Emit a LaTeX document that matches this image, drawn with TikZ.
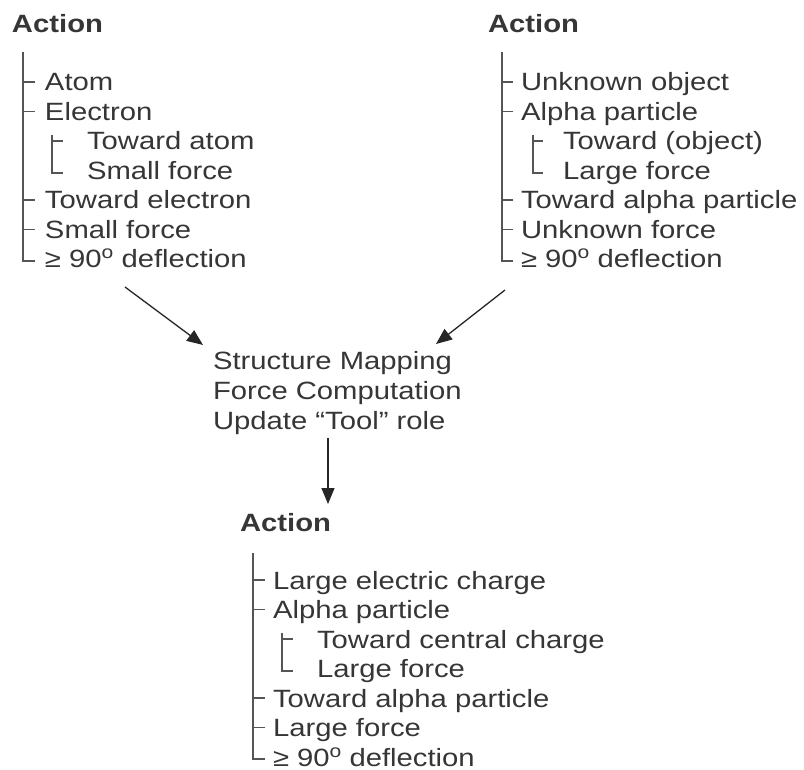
\documentclass[tikz,border=0pt]{standalone}
\usepackage{fontspec}
\setmainfont{Liberation Sans}[FakeStretch=1.17]
\usetikzlibrary{arrows.meta}
\definecolor{txt}{HTML}{363636}
\definecolor{ln}{HTML}{555555}
\newcommand{\degsup}{\raisebox{9pt}{\fontsize{18}{18}\selectfont o}}
\tikzset{
  lbl/.style={anchor=base west, inner sep=0pt, outer sep=0pt, text=txt, font=\fontsize{25}{30}\selectfont},
  headlbl/.style={lbl, font=\fontsize{25}{30}\selectfont\bfseries},
  tree/.style={draw=ln, line width=1.5pt},
  arr/.style={draw=black!85, line width=1.3pt, -{Triangle[length=16pt,width=13pt]}},
}
\begin{document}
\begin{tikzpicture}[x=1pt,y=-1pt]
\useasboundingbox (0,0) rectangle (804,770);

% ---------- left block ----------
\node[headlbl] (la) at (12,33) {Action};
\node[lbl] (l1) at (45,91) {Atom};
\node[lbl] (l2) at (45,120.5) {Electron};
\node[lbl] (l3) at (87,150) {Toward atom};
\node[lbl] (l4) at (87,179.5) {Small force};
\node[lbl] (l5) at (45,209) {Toward electron};
\node[lbl] (l6) at (45,238.5) {Small force};
\node[lbl] (l7) at (45,268) {≥ 90\degsup{} deflection};
\draw[tree] (23,52) -- (23,261) -- (35,261);
\draw[tree] (23,82) -- (35,82);
\draw[tree] (23,111.5) -- (35,111.5);
\draw[tree] (23,200) -- (35,200);
\draw[tree] (23,229.5) -- (35,229.5);
\draw[tree] (52,135) -- (52,173) -- (63,173);
\draw[tree] (52,141) -- (63,141);

% ---------- right block ----------
\node[headlbl] (ra) at (488,33) {Action};
\node[lbl] (r1) at (521,91) {Unknown object};
\node[lbl] (r2) at (521,120.5) {Alpha particle};
\node[lbl] (r3) at (563,150) {Toward (object)};
\node[lbl] (r4) at (563,179.5) {Large force};
\node[lbl] (r5) at (521,209) {Toward alpha particle};
\node[lbl] (r6) at (521,238.5) {Unknown force};
\node[lbl] (r7) at (521,268) {≥ 90\degsup{} deflection};
\draw[tree] (502,52) -- (502,261) -- (513,261);
\draw[tree] (502,82) -- (513,82);
\draw[tree] (502,111.5) -- (513,111.5);
\draw[tree] (502,200) -- (513,200);
\draw[tree] (502,229.5) -- (513,229.5);
\draw[tree] (533,135) -- (533,173) -- (543,173);
\draw[tree] (533,141) -- (543,141);

% ---------- middle ----------
\node[lbl] (m1) at (213,370) {Structure Mapping};
\node[lbl] (m2) at (213,399.5) {Force Computation};
\node[lbl] (m3) at (213,429) {Update “Tool” role};

\coordinate (ls) at (125,287);
\coordinate (le) at (203,345);
\coordinate (rs) at (505,290);
\coordinate (re) at (436,344);
\coordinate (ds) at (328,438);
\coordinate (de) at (328,504);
\draw[arr] (ls) -- (le);
\draw[arr] (rs) -- (re);
\draw[arr] (ds) -- (de);

% ---------- bottom block ----------
\node[headlbl] (ba) at (240,531) {Action};
\node[lbl] (b1) at (273,589) {Large electric charge};
\node[lbl] (b2) at (273,618.5) {Alpha particle};
\node[lbl] (b3) at (317,648) {Toward central charge};
\node[lbl] (b4) at (317,677.5) {Large force};
\node[lbl] (b5) at (273,707) {Toward alpha particle};
\node[lbl] (b6) at (273,736.5) {Large force};
\node[lbl] (b7) at (273,766) {≥ 90\degsup{} deflection};
\draw[tree] (253,553) -- (253,759) -- (265,759);
\draw[tree] (253,580) -- (265,580);
\draw[tree] (253,609.5) -- (265,609.5);
\draw[tree] (253,698) -- (265,698);
\draw[tree] (253,727.5) -- (265,727.5);
\draw[tree] (282,633) -- (282,671) -- (293,671);
\draw[tree] (282,639) -- (293,639);
\end{tikzpicture}
\end{document}
